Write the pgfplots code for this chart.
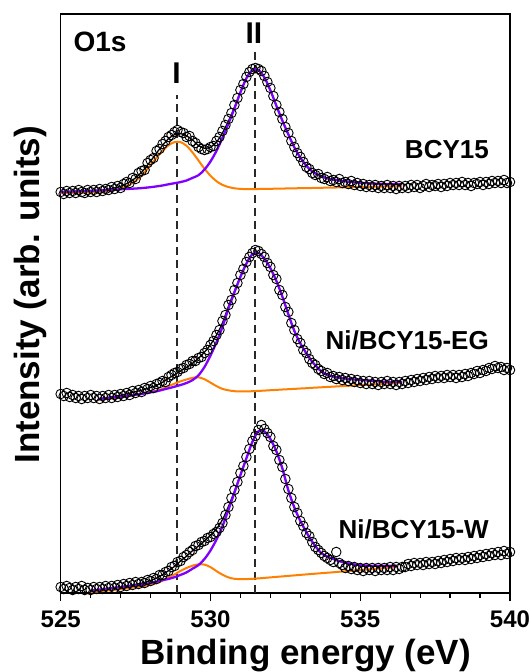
\documentclass[border=0pt]{standalone}
\usepackage{fontspec}
\setmainfont{Liberation Sans}
\usepackage{pgfplots}
\pgfplotsset{compat=1.18}
\usepackage{pgfplotstable}
\definecolor{fitpurple}{RGB}{128,0,255}
\definecolor{fitorange}{RGB}{255,128,0}
\definecolor{dashgray}{RGB}{40,40,40}

% measured points: x = binding energy, a/b/c = BCY15, Ni/BCY15-EG, Ni/BCY15-W (offset counts)
\pgfplotstableread{
x a b c
525.0 401 199 6
525.1 399 197 4
525.2 402 200 7
525.3 400 196 5
525.4 402 198 3
525.5 400 195 6
525.6 403 197 4
525.7 401 194 7
525.8 400 197 3
525.9 403 195 5
526.0 401 198 3
526.1 403 195 6
526.2 401 197 4
526.3 404 194 6
526.4 402 197 4
526.5 404 195 7
526.6 403 198 5
526.7 406 195 7
526.8 404 198 5
526.9 407 196 8
527.0 405 199 6
527.1 409 197 9
527.2 411 200 7
527.3 410 198 10
527.4 415 202 8
527.5 414 200 11
527.6 420 203 9
527.7 422 201 11
527.8 423 205 10
527.9 430 204 13
528.0 433 207 12
528.1 435 205 15
528.2 442 209 14
528.3 444 210 18
528.4 449 212 18
528.5 452 211 21
528.6 456 216 22
528.7 458 218 26
528.8 461 220 27
528.9 463 221 31
529.0 461 224 32
529.1 460 225 36
529.2 456 228 38
529.3 457 229 41
529.4 452 232 43
529.5 450 232 47
529.6 446 235 48
529.7 444 236 51
529.8 443 240 52
529.9 444 243 55
530.0 446 248 56
530.1 447 252 59
530.2 452 258 61
530.3 456 263 65
530.4 462 272 70
530.5 468 278 78
530.6 474 288 86
530.7 480 293 95
530.8 488 303 103
530.9 495 310 111
531.0 503 318 120
531.1 509 324 127
531.2 516 331 136
531.3 521 336 144
531.4 524 340 152
531.5 525 343 157
531.6 524 342 163
531.7 522 339 168
531.8 517 336 164
531.9 511 330 160
532.0 505 326 156
532.1 497 318 147
532.2 488 314 143
532.3 481 303 133
532.4 474 298 126
532.5 466 286 114
532.6 460 281 104
532.7 452 270 95
532.8 446 263 86
532.9 440 254 80
533.0 436 250 72
533.1 431 243 67
533.2 426 240 60
533.3 424 234 57
533.4 420 230 51
533.5 418 228 46
533.6 419 224 43
533.7 415 222 40
533.8 414 219 37
533.9 416 220 35
534.0 412 216 33
534.1 413 217 31
534.2 411 214 41
534.3 414 216 30
534.4 410 213 28
534.5 411 215 25
534.6 409 212 27
534.7 412 214 24
534.8 408 211 26
534.9 410 213 23
535.0 407 210 25
535.1 409 212 22
535.2 406 209 25
535.3 408 212 23
535.4 406 209 25
535.5 408 211 22
535.6 405 208 25
535.7 407 211 23
535.8 405 209 25
535.9 408 212 23
536.0 405 209 26
536.1 407 211 23
536.2 404 208 26
536.3 407 211 24
536.4 405 209 26
536.5 407 212 26
536.6 405 210 29
536.7 408 213 27
536.8 406 211 30
536.9 408 214 28
537.0 405 212 30
537.1 407 215 28
537.2 409 213 31
537.3 406 216 29
537.4 408 214 31
537.5 407 217 29
537.6 409 215 32
537.7 406 217 30
537.8 409 215 33
537.9 407 218 31
538.0 410 216 34
538.1 408 218 32
538.2 410 215 35
538.3 408 218 33
538.4 411 216 35
538.5 408 219 33
538.6 410 217 36
538.7 407 220 34
538.8 410 219 37
538.9 409 222 35
539.0 411 220 38
539.1 408 223 36
539.2 411 222 39
539.3 409 225 37
539.4 412 224 40
539.5 410 227 38
539.6 412 225 41
539.7 410 226 38
539.8 413 223 42
539.9 410 225 39
540.0 411 223 41
}\rawdata

% fitted components: background (b), peak I (o), peak II (p)
\pgfplotstableread{
x b1 o1 p1 b2 o2 p2 b3 o3 p3
525.0 400.0 0 1.0 190.9 0 0.7 -1.5 0 1.2
525.5 400.3 0 1.3 191.7 0 0.8 -0.3 0 1.3
526.0 400.6 0 1.6 192.6 0.2 0.9 0.9 0 1.5
526.25 400.75 0.1 1.8 193.0 0.3 1.0 1.5 0 1.7
526.5 400.9 0.5 2.0 193.4 0.5 1.3 2.2 0.1 1.9
527.0 401.2 3.0 2.5 194.3 1.5 2.0 3.4 0.4 2.4
527.4 401.4 8.6 2.9 195.0 2.6 3.0 4.4 0.9 2.8
527.7 401.6 15.9 3.3 195.5 3.8 3.5 5.1 1.5 3.2
528.0 401.8 26.0 4.0 196.0 5.0 4.6 5.8 2.5 4.2
528.2 401.9 33.4 4.7 196.3 6.0 5.4 6.3 3.5 5.0
528.4 402.0 40.2 5.5 196.7 7.5 6.5 6.8 5.6 6.0
528.6 402.2 45.6 6.5 197.0 10.0 7.7 7.3 8.2 6.8
528.8 402.3 48.6 7.5 197.3 12.0 9.0 7.8 10.8 8.0
529.0 402.4 48.5 8.5 197.7 14.0 10.3 8.3 13.8 9.8
529.2 402.5 44.7 10.0 198.0 15.5 12.0 8.8 16.2 11.8
529.4 402.6 38.0 12.5 198.4 16.8 14.5 9.3 18.0 15.0
529.6 402.8 29.7 15.0 198.7 17.0 19.0 9.7 19.0 18.2
529.8 402.9 21.4 20.5 199.0 14.8 27.0 10.2 18.2 23.8
530.0 403.0 14.3 28.5 199.4 11.0 38.0 10.7 15.2 31.8
530.2 403.1 8.7 39.0 199.7 7.2 51.0 11.2 10.7 42.2
530.4 403.2 4.9 52.0 200.1 4.0 66.0 11.7 6.6 55.0
530.6 403.4 2.6 66.0 200.4 2.3 84.0 12.2 3.4 71.0
530.8 403.5 1.2 81.0 200.7 1.1 100.0 12.7 1.5 87.6
531.0 403.6 0.5 97.0 201.1 0.5 115.0 13.2 0.6 104.6
531.2 403.7 0.2 111.0 201.4 0.2 128.0 13.7 0.2 121.0
531.4 403.8 0 119.0 201.8 0 137.0 14.2 0 137.0
531.6 404.0 0 119.0 202.1 0 138.0 14.6 0 147.0
531.8 404.1 0 111.5 202.4 0 132.0 15.1 0 146.5
532.0 404.2 0 98.5 202.8 0 122.0 15.6 0 138.4
532.2 404.3 0 83.0 203.1 0 109.0 16.1 0 125.6
532.4 404.4 0 68.0 203.5 0 93.0 16.6 0 108.0
532.6 404.6 0 54.0 203.8 0 75.0 17.1 0 85.6
532.8 404.7 0 41.0 204.1 0 58.0 17.6 0 68.0
533.0 404.8 0 30.5 204.5 0 45.0 18.1 0 54.0
533.2 404.9 0 22.5 204.8 0 35.0 18.6 0 42.4
533.4 405.0 0 16.5 205.2 0 26.0 19.1 0 32.0
533.7 405.2 0 11.5 205.7 0 16.0 19.8 0 20.0
534.0 405.4 0 8.5 206.2 0 11.0 20.5 0 14.7
534.4 405.6 0 6.5 206.9 0 8.0 21.5 0 9.5
534.8 405.9 0 4.8 207.5 0 6.0 22.5 0 6.1
535.3 406.2 0 3.4 208.4 0 4.0 23.7 0 3.6
535.8 406.5 0 2.6 209.2 0 2.0 24.9 0 2.3
536.2 406.7 0 2.3 209.9 0 1.0 25.9 0 1.5
536.4 406.8 0 2.1 210.3 0 0.7 26.4 0 1.3
}\fits

\begin{document}
\begin{tikzpicture}
\useasboundingbox (-60.7pt,-79pt) rectangle (468.6pt,593pt);
\begin{axis}[
    scale only axis,
    width=449.3pt, height=579pt,
    xmin=525, xmax=540,
    ymin=0, ymax=579,
    clip=false,
    axis line style={line width=1.2pt},
    xtick={525,530,535,540},
    minor xtick={526,527,528,529,531,532,533,534,536,537,538,539},
    ytick=\empty,
    xtick pos=bottom,
    tick align=outside,
    major tick length=8pt,
    minor tick length=5pt,
    tick style={line width=1.2pt, black},
    /pgf/number format/assume math mode=true,
    /pgf/number format/set thousands separator={},
    xticklabel style={font=\fontsize{24}{26}\selectfont\bfseries, yshift=-6pt},
    xlabel={Binding energy (eV)},
    ylabel={Intensity (arb. units)},
    xlabel style={font=\fontsize{35}{40}\selectfont\bfseries,
        at={(axis description cs:0.545,-0.108)}, anchor=center},
    ylabel style={font=\fontsize{35}{40}\selectfont\bfseries,
        at={(axis description cs:-0.068,0.515)}, anchor=center, rotate=0},
]
% reference lines of components I and II
\addplot[dashgray, line width=1.8pt, dash pattern=on 8pt off 5pt]
    coordinates {(528.87,0) (528.87,498)};
\addplot[dashgray, line width=1.8pt, dash pattern=on 8pt off 5pt]
    coordinates {(531.5,0) (531.5,541)};

% measured spectra
\addplot[only marks, mark=o, mark size=4.8pt, mark options={line width=0.9pt, black}]
    table[x=x, y=a] {\rawdata};
\addplot[only marks, mark=o, mark size=4.8pt, mark options={line width=0.9pt, black}]
    table[x=x, y=b] {\rawdata};
\addplot[only marks, mark=o, mark size=4.8pt, mark options={line width=0.9pt, black}]
    table[x=x, y=c] {\rawdata};

% BCY15 fit
\addplot[fitorange, line width=2pt, smooth]
    table[x=x, y expr=\thisrow{b1}+\thisrow{o1}] {\fits};
\addplot[black, line width=1.3pt, smooth]
    table[x=x, y expr=\thisrow{b1}+\thisrow{o1}+\thisrow{p1}] {\fits};
\addplot[fitpurple, line width=2.3pt, smooth]
    table[x=x, y expr=\thisrow{b1}+\thisrow{p1}] {\fits};

% Ni/BCY15-EG fit
\addplot[fitorange, line width=2pt, smooth, restrict x to domain=526.2:536.4]
    table[x=x, y expr=\thisrow{b2}+\thisrow{o2}] {\fits};
\addplot[black, line width=1.3pt, smooth, restrict x to domain=526.2:536.4]
    table[x=x, y expr=\thisrow{b2}+\thisrow{o2}+\thisrow{p2}] {\fits};
\addplot[fitpurple, line width=2.3pt, smooth, restrict x to domain=526.2:536.4]
    table[x=x, y expr=\thisrow{b2}+\thisrow{p2}] {\fits};

% Ni/BCY15-W fit
\addplot[fitorange, line width=2pt, smooth, restrict x to domain=525.9:536.2]
    table[x=x, y expr=\thisrow{b3}+\thisrow{o3}] {\fits};
\addplot[black, line width=1.3pt, smooth, restrict x to domain=525.9:536.2]
    table[x=x, y expr=\thisrow{b3}+\thisrow{o3}+\thisrow{p3}] {\fits};
\addplot[fitpurple, line width=2.3pt, smooth, restrict x to domain=525.9:536.2]
    table[x=x, y expr=\thisrow{b3}+\thisrow{p3}] {\fits};

% annotations
\node[anchor=west, font=\fontsize{28}{30}\selectfont\bfseries] at (axis cs:525.31,551) {O1s};
\node[font=\fontsize{30}{32}\selectfont\bfseries] at (axis cs:528.87,520) {I};
\node[font=\fontsize{30}{32}\selectfont\bfseries] at (axis cs:531.45,560) {II};
\node[anchor=east, font=\fontsize{26}{28}\selectfont\bfseries] at (axis cs:539.41,443) {BCY15};
\node[anchor=east, font=\fontsize{26}{28}\selectfont\bfseries] at (axis cs:539.41,253) {Ni/BCY15-EG};
\node[anchor=east, font=\fontsize{26}{28}\selectfont\bfseries] at (axis cs:539.41,64) {Ni/BCY15-W};
\end{axis}
\end{tikzpicture}
\end{document}
